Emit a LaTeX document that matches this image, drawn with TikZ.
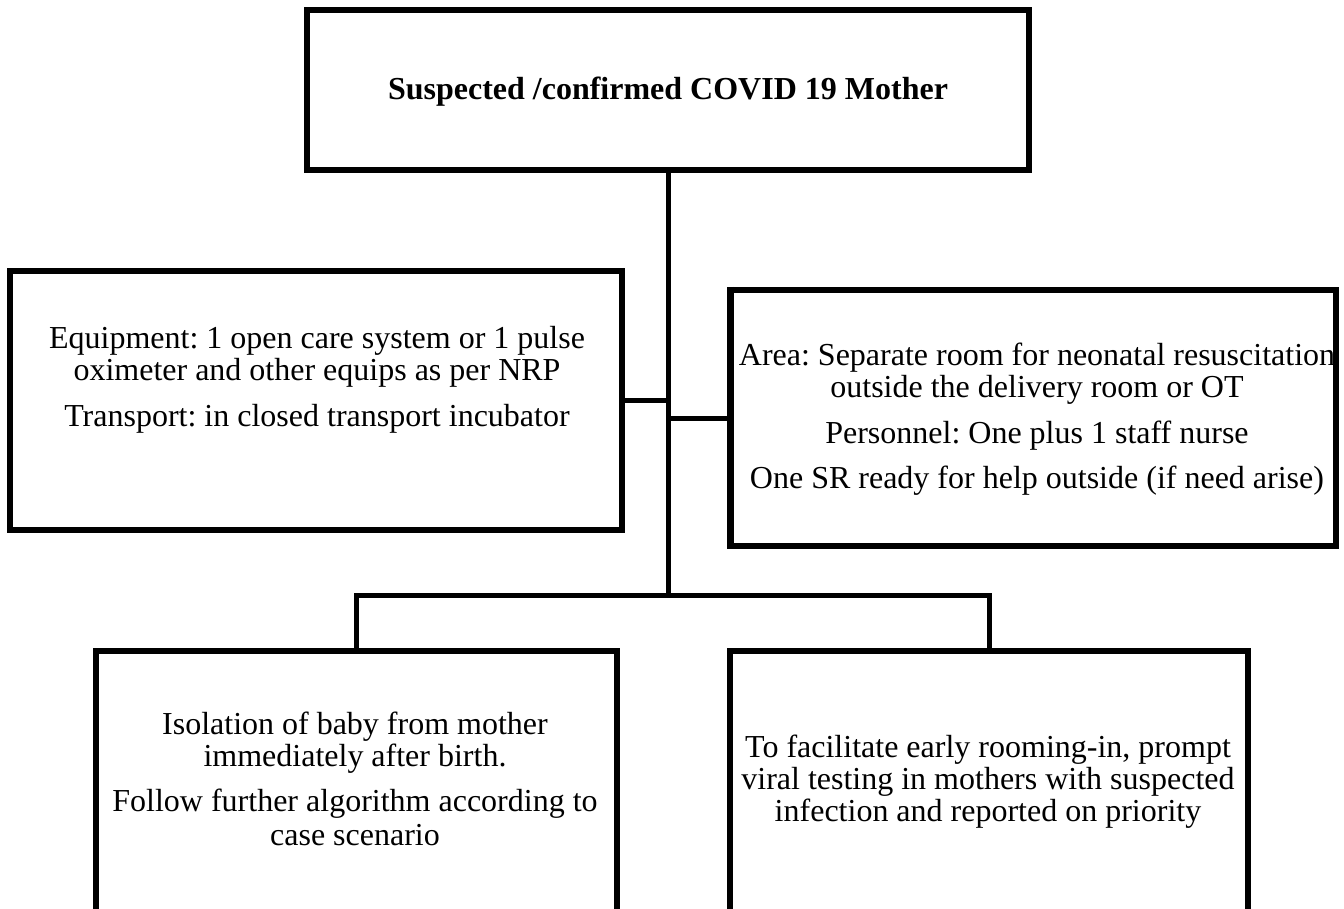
\documentclass[tikz,border=0pt]{standalone}
\usepackage{fontspec}
\setmainfont{Liberation Serif}
\usetikzlibrary{positioning,calc}

\begin{document}
\frenchspacing
\begin{tikzpicture}[
  x=1pt,y=-1pt,
  every node/.append style={text=black},
  frame/.style={draw=black, line width=6pt, inner sep=0pt},
  heavy/.style={draw=black, line width=5pt},
  opentop/.style={inner sep=0pt, minimum height=264pt},
  txt/.style={font=\fontsize{32}{32}\selectfont, align=center, anchor=base, inner sep=0pt},
  link/.style={draw=black, line width=5pt},
]
\path[use as bounding box, fill=white] (0,0) rectangle (1344,909);
% boxes
\node[frame, minimum width=722pt, minimum height=160pt] (mother) at (668,90) {};
\node[frame, minimum width=612pt, minimum height=259pt] (equip) at (316,400.5) {};
\node[frame, minimum width=606pt, minimum height=256pt] (area) at (1033,418) {};
\node[opentop, minimum width=521pt] (iso) at (356.5,783) {};
\node[opentop, minimum width=518pt] (test) at (989,783) {};
\draw[frame] (iso.south west) -- (iso.north west) -- (iso.north east) -- (iso.south east);
\draw[frame] (test.south west) -- (test.north west) -- (test.north east) -- (test.south east);
% the inner sides facing the trunk are drawn heavier
\draw[heavy] ($(equip.north east)+(-4,0)$) -- ($(equip.south east)+(-4,0)$);
\draw[heavy] ($(area.north west)+(4,0)$) -- ($(area.south west)+(4,0)$);
% texts (anchored at the baseline of the last line)
\node[txt, font=\fontsize{32}{32}\selectfont\bfseries] (mothertxt) at (668,100) {Suspected /confirmed COVID 19 Mother};
\node[txt] (equiptxt) at (317,426)
  {Equipment: 1 open care system or 1 pulse\\oximeter and other equips as per NRP\\[14pt]
   Transport: in closed transport incubator};
\node[txt] (areatxt) at (1037,488)
  {Area: Separate room for neonatal resuscitation\\outside the delivery room or OT\\[14pt]
   Personnel: One plus 1 staff nurse\\[13pt]
   One SR ready for help outside (if need arise)};
\node[txt] (isotxt) at (355,845)
  {Isolation of baby from mother\\immediately after birth.\\[13pt]
   Follow further algorithm according to\\[2pt]case scenario};
\node[txt] (testtxt) at (988,821)
  {To facilitate early rooming-in, prompt\\viral testing in mothers with suspected\\infection and reported on priority};
% connectors
\coordinate (bus) at (mother.south |- 0,595);
\draw[link] (mother.south) -- (bus);
\draw[link] (equip.east) -- (equip.east -| bus);
\draw[link] (area.west) -- (area.west -| bus);
\draw[link] (iso.north) |- (bus) -| (test.north);
\end{tikzpicture}
\end{document}
